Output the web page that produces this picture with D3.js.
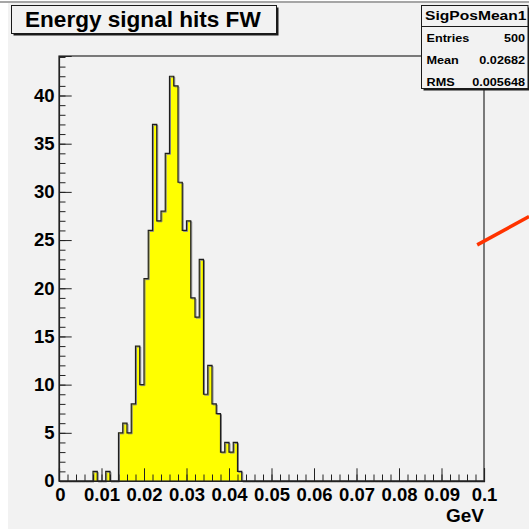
<!DOCTYPE html>
<html>
<head>
<meta charset="utf-8">
<script src="https://cdn.jsdelivr.net/npm/d3@7"></script>
<style>
  html, body { margin: 0; padding: 0; background: #ffffff; }
  svg { display: block; }
  text { font-family: "Liberation Sans", Arial, Helvetica, sans-serif; font-weight: bold; fill: #000; }
</style>
</head>
<body>
<svg id="c" width="529" height="529"></svg>
<script>
// Histogram definition: 100 bins of 0.001 GeV from 0 to 0.1
const binStart = 0;
const binWidth = 0.001;
const binCounts = [
  0, 0, 0, 0, 0, 0, 0, 0, 1, 0,
  0, 1, 0, 0, 5, 6, 5, 8, 14, 10,
  21, 26, 37, 27, 28, 34, 42, 41, 31, 26,
  27, 19, 17, 23, 9, 12, 8, 7, 3, 4,
  3, 4, 1, 0, 0, 0, 0, 0, 0, 0,
  0, 0, 0, 0, 0, 0, 0, 0, 0, 0,
  0, 0, 0, 0, 0, 0, 0, 0, 0, 0,
  0, 0, 0, 0, 0, 0, 0, 0, 0, 0,
  0, 0, 0, 0, 0, 0, 0, 0, 0, 0,
  0, 0, 0, 0, 0, 0, 0, 0, 0, 0
];

// Axis ranges and tick labels
const xDomain = [0, 0.1];
const yMax = 44.1;
const xMajorTicks = [0, 0.01, 0.02, 0.03, 0.04, 0.05, 0.06, 0.07, 0.08, 0.09, 0.1];
const xTickLabels = ["0", "0.01", "0.02", "0.03", "0.04", "0.05", "0.06", "0.07", "0.08", "0.09", "0.1"];
const yMajorTicks = [0, 5, 10, 15, 20, 25, 30, 35, 40];
const yTickLabels = ["0", "5", "10", "15", "20", "25", "30", "35", "40"];
const xMinorStep = 0.002;
const yMinorStep = 1;

// Texts
const titleText = "Energy signal hits FW";
const xAxisTitle = "GeV";
const statsName = "SigPosMean1";
const statsLabels = ["Entries", "Mean", "RMS"];
const statsValues = ["500", "0.02682", "0.005648"];

// Fit function segment (GeV, counts)
const fitX = [0.0984, 0.1106];
const fitY = [24.5, 27.45];

const svg = d3.select("#c");
const W = 529, H = 529;
const frame = { left: 59, right: 484, top: 56, bottom: 481 };

// Canvas background
svg.append("rect").attr("x", 0).attr("y", 0).attr("width", W).attr("height", H).attr("fill", "#ffffff");
svg.append("rect").attr("x", 8).attr("y", 3).attr("width", W - 8).attr("height", H - 3).attr("fill", "#f2f2f2");
svg.append("line").attr("x1", 0).attr("x2", W).attr("y1", 2).attr("y2", 2)
  .attr("stroke", "#a6a6a6").attr("stroke-width", 2);

const x = d3.scaleLinear().domain(xDomain).range([frame.left, frame.right]);
const y = d3.scaleLinear().domain([0, yMax]).range([frame.bottom, frame.top]);

// Histogram as step polygon
const edges = binCounts.map((c, i) => ({ x: binStart + i * binWidth, c }));
edges.push({ x: binStart + binCounts.length * binWidth, c: binCounts[binCounts.length - 1] });

const area = d3.area()
  .x(d => x(d.x)).y0(y(0)).y1(d => y(d.c))
  .curve(d3.curveStepAfter);
const line = d3.line()
  .x(d => x(d.x)).y(d => y(d.c))
  .curve(d3.curveStepAfter);

svg.append("path").datum(edges).attr("d", area).attr("fill", "#ffff00");
svg.append("path").datum(edges).attr("d", line)
  .attr("fill", "none").attr("stroke", "#8a8a8a").attr("stroke-width", 1)
  .attr("transform", "translate(1,1)");
svg.append("path").datum(edges).attr("d", line)
  .attr("fill", "none").attr("stroke", "#1e1e1e").attr("stroke-width", 1.2);

// Frame
svg.append("rect")
  .attr("x", frame.left).attr("y", frame.top)
  .attr("width", frame.right - frame.left).attr("height", frame.bottom - frame.top)
  .attr("fill", "none").attr("stroke", "#2a2a2a").attr("stroke-width", 1.2);

// Minor ticks
const xMinor = d3.range(0, 0.1 + 1e-9, xMinorStep);
const yMinor = d3.range(0, Math.floor(yMax) + 1e-9, yMinorStep);

svg.append("g").attr("transform", `translate(0,${frame.bottom})`)
  .call(d3.axisBottom(x).tickValues(xMinor).tickSize(-6.5).tickFormat(""))
  .call(g => g.select(".domain").remove())
  .call(g => g.selectAll("line").attr("stroke", "#222"));
svg.append("g").attr("transform", `translate(${frame.left},0)`)
  .call(d3.axisLeft(y).tickValues(yMinor).tickSize(-6.5).tickFormat(""))
  .call(g => g.select(".domain").remove())
  .call(g => g.selectAll("line").attr("stroke", "#222"));

// Major ticks with labels
const xAxis = d3.axisBottom(x).tickValues(xMajorTicks).tickSize(-12.7).tickPadding(7)
  .tickFormat((d, i) => xTickLabels[i]);
svg.append("g").attr("transform", `translate(0,${frame.bottom})`)
  .call(xAxis)
  .call(g => g.select(".domain").attr("stroke", "#222").attr("stroke-width", 1.2))
  .call(g => g.selectAll("line").attr("stroke", "#222"))
  .call(g => g.selectAll("text").attr("font-size", 18.5).attr("font-family", null).attr("fill", "#000"))
  .call(g => g.selectAll("text").filter((d, i) => i === 0).attr("dx", 1));

const yAxis = d3.axisLeft(y).tickValues(yMajorTicks).tickSize(-12.7).tickPadding(4.5)
  .tickFormat((d, i) => yTickLabels[i]);
svg.append("g").attr("transform", `translate(${frame.left},0)`)
  .call(yAxis)
  .call(g => g.select(".domain").attr("stroke", "#222").attr("stroke-width", 1.2))
  .call(g => g.selectAll("line").attr("stroke", "#222"))
  .call(g => g.selectAll("text").attr("font-size", 18.5).attr("font-family", null).attr("fill", "#000"));

// Axis title
svg.append("text").attr("x", frame.right).attr("y", 522)
  .attr("text-anchor", "end").attr("font-size", 19).text(xAxisTitle);

// Fit function segment
svg.append("line")
  .attr("x1", x(fitX[0])).attr("y1", y(fitY[0]))
  .attr("x2", x(fitX[1])).attr("y2", y(fitY[1]))
  .attr("stroke", "#ff3300").attr("stroke-width", 3.5);

// Pave with shadow
function pave(x0, y0, w, h) {
  svg.append("rect").attr("x", x0 + 2).attr("y", y0 + 2).attr("width", w).attr("height", h).attr("fill", "#1a1a1a");
  svg.append("rect").attr("x", x0).attr("y", y0).attr("width", w).attr("height", h)
    .attr("fill", "#f2f2f2").attr("stroke", "#1a1a1a").attr("stroke-width", 1);
}

// Horizontally widened text, as the stats box font is drawn wide
function wideText(px, py, str, size, stretch, anchor) {
  return svg.append("text")
    .attr("transform", `translate(${px},${py}) scale(${stretch},1)`)
    .attr("text-anchor", anchor || "start")
    .attr("font-size", size).text(str);
}

// Title pave
pave(11.5, 5.5, 265, 28);
wideText(25, 26.5, titleText, 21.5, 1.05);

// Statistics pave
const sx0 = 421.5, sx1 = 528, sy0 = 5.5, sy1 = 88.5;
pave(sx0, sy0, sx1 - sx0, sy1 - sy0);
svg.append("line").attr("x1", sx0).attr("x2", sx1).attr("y1", 26.5).attr("y2", 26.5)
  .attr("stroke", "#1a1a1a").attr("stroke-width", 1);
wideText((sx0 + sx1) / 2 + 1, 20, statsName, 13, 1.2, "middle");
const rowY = [42.5, 64.5, 86.5];
statsLabels.forEach((lab, i) => {
  wideText(426.5, rowY[i] - 0.5, lab, 11, 1.15);
  wideText(525, rowY[i] - 0.5, statsValues[i], 11, 1.15, "end");
});
</script>
</body>
</html>
